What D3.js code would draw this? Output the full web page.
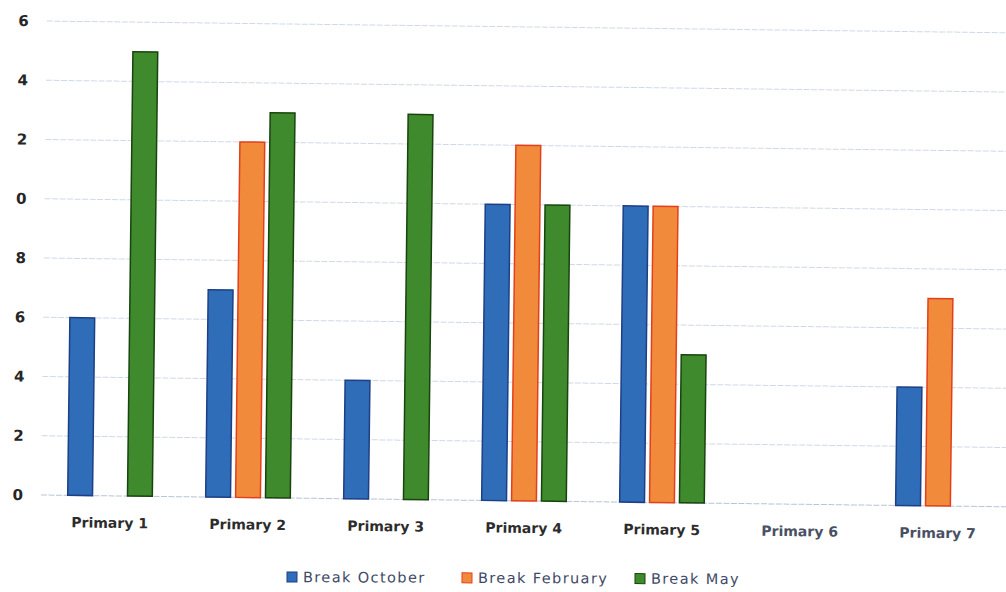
<!DOCTYPE html>
<html>
<head>
<meta charset="utf-8">
<script src="https://cdn.jsdelivr.net/npm/d3@7"></script>
<style>
  body { margin: 0; background: #fff; }
  svg { display: block; }
</style>
</head>
<body>
<svg id="chart" width="1006" height="592"></svg>
<script>
const categories = ["Primary 1", "Primary 2", "Primary 3", "Primary 4", "Primary 5", "Primary 6", "Primary 7"];
const seriesNames = ["Break October", "Break February", "Break May"];
const breakOctober  = [6, 7, 4, 10, 10, 0, 4];
const breakFebruary = [0, 12, 0, 12, 10, 0, 7];
const breakMay      = [15, 13, 13, 10, 5, 0, 0];
const tickValues = [0, 2, 4, 6, 8, 10, 12, 14, 16];
const tickLabels = ["0", "2", "4", "6", "8", "0", "2", "4", "6"];

(function () {
const seriesValues = [breakOctober, breakFebruary, breakMay];
const fills = ["#2f6db8", "#f28a3c", "#3f8a2c"];
const strokes = ["#1d3f86", "#e2401c", "#18440f"];

const svg = d3.select("#chart");
const mLeft = 41, mRight = 1007, mTop = 21, mBottom = 495;

const x0 = d3.scaleBand().domain(categories).range([mLeft, mRight]).paddingInner(0.35).paddingOuter(0.175);
const x1 = d3.scaleBand().domain(seriesNames).range([0, x0.bandwidth()]).paddingInner(0.17).paddingOuter(0.085);
const y = d3.scaleLinear().domain([0, 16]).range([mBottom, mTop]);

const g = svg.append("g").attr("transform", `rotate(0.7, ${mLeft}, ${mBottom})`);

// gridlines
g.append("g").selectAll("line").data(tickValues).join("line")
  .attr("x1", mLeft).attr("x2", mRight + 20)
  .attr("y1", d => y(d)).attr("y2", d => y(d))
  .attr("stroke", d => d === 0 ? "#b8c4d8" : "#cfd9e8")
  .attr("stroke-width", 1)
  .attr("stroke-dasharray", "6,1.5");

// y axis labels
const yAxis = d3.axisLeft(y).tickValues(tickValues).tickSize(0).tickPadding(0)
  .tickFormat((d, i) => tickLabels[i]);
const ya = g.append("g").attr("transform", "translate(23,0)").call(yAxis);
ya.select(".domain").remove();
ya.selectAll("text")
  .attr("font-family", "DejaVu Sans, sans-serif")
  .attr("font-size", 15).attr("font-weight", "bold").attr("fill", "#262626");

// bars
const rows = categories.map((c, i) => ({ c, vals: seriesNames.map((s, j) => ({ s, j, v: seriesValues[j][i] })) }));
g.append("g").selectAll("g").data(rows).join("g")
  .attr("transform", d => `translate(${x0(d.c)},0)`)
  .selectAll("rect").data(d => d.vals.filter(v => v.v > 0)).join("rect")
  .attr("x", d => x1(d.s))
  .attr("width", x1.bandwidth())
  .attr("y", d => y(d.v))
  .attr("height", d => y(0) - y(d.v))
  .attr("fill", d => fills[d.j])
  .attr("stroke", d => strokes[d.j])
  .attr("stroke-width", 1.5);

// x axis labels
const xAxis = d3.axisBottom(x0).tickSize(0).tickPadding(0);
const xa = g.append("g").attr("transform", `translate(0,${mBottom + 32})`).call(xAxis);
xa.select(".domain").remove();
xa.selectAll("text")
  .attr("dy", 0)
  .attr("font-family", "DejaVu Sans, sans-serif")
  .attr("font-size", 14).attr("font-weight", "bold")
  .attr("fill", (d, i) => i >= 5 ? "#4a5064" : "#2c2c2c");

// legend
const legendX = [287, 462, 635];
const lg = svg.append("g").attr("transform", "rotate(0.25, 500, 578)");
const items = lg.selectAll("g").data(seriesNames).join("g")
  .attr("transform", (d, i) => `translate(${legendX[i]},573)`);
items.append("rect").attr("width", 10).attr("height", 10)
  .attr("fill", (d, i) => fills[i]).attr("stroke", (d, i) => strokes[i]).attr("stroke-width", 1);
items.append("text").attr("x", 16).attr("y", 10)
  .attr("font-family", "DejaVu Sans, sans-serif").attr("font-size", 14.5)
  .attr("letter-spacing", 1.4)
  .attr("fill", "#3e4a66").text(d => d);
})();
</script>
</body>
</html>
